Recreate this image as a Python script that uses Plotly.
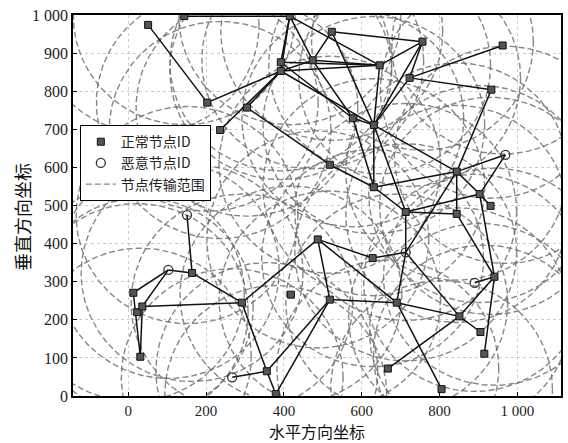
import numpy as np
import plotly.graph_objects as go

# Node coordinates (m) and type: "n" = normal node, "m" = malicious node
node_x = [51, 144, 415, 203, 236, 305, 392, 392, 474, 523,
          646, 756, 962, 933, 723, 577, 631, 518, 631, 969,
          844, 903, 931, 844, 713, 151, 164, 103, 13, 23,
          36, 31, 292, 267, 356, 379, 418, 487, 518, 628,
          713, 690, 667, 805, 851, 890, 941, 905, 915]
node_y = [974, 997, 997, 770, 698, 757, 853, 876, 881, 956,
          868, 930, 920, 804, 835, 729, 711, 607, 548, 633,
          589, 530, 499, 478, 483, 475, 323, 331, 271, 220,
          235, 103, 245, 49, 65, 5, 266, 411, 253, 362,
          377, 245, 72, 18, 209, 297, 313, 168, 111]
node_type = ["n", "n", "n", "n", "n", "n", "n", "n", "n", "n",
             "n", "n", "n", "n", "n", "n", "n", "n", "n", "m",
             "n", "n", "n", "n", "n", "m", "n", "m", "n", "n",
             "n", "n", "n", "m", "n", "n", "n", "n", "n", "n",
             "m", "n", "n", "n", "n", "m", "n", "n", "n"]

# Communication links (1-based node numbers)
links = [(1, 4), (2, 3), (3, 7), (3, 8), (3, 9), (3, 11), (4, 7), (5, 7), (6, 7),
         (6, 18), (7, 9), (7, 11), (8, 11), (9, 11), (7, 17), (8, 16), (9, 10),
         (9, 16), (10, 12), (10, 17), (11, 12), (11, 17), (12, 15), (12, 17),
         (15, 13), (15, 14), (15, 17), (16, 17), (16, 19), (17, 19), (17, 21),
         (17, 25), (18, 19), (19, 21), (19, 25), (14, 21), (21, 20), (21, 22),
         (21, 24), (21, 41), (22, 20), (22, 23), (22, 47), (25, 22), (25, 24),
         (25, 41), (24, 47), (38, 39), (38, 33), (38, 40), (38, 42), (40, 41),
         (41, 42), (39, 42), (39, 35), (39, 36), (42, 45), (42, 44), (43, 45),
         (41, 45), (45, 48), (47, 49), (47, 46), (33, 27), (33, 31), (27, 26),
         (27, 28), (28, 29), (28, 31), (29, 32), (31, 32), (30, 31), (33, 35),
         (34, 35), (35, 36), (45, 47)]

# Transmission radius of every node (m)
radius = 285

x_ticks = [0, 200, 400, 600, 800, 1000]
x_tick_text = ["0", "200", "400", "600", "800", "1 000"]
y_ticks = [0, 100, 200, 300, 400, 500, 600, 700, 800, 900, 1000]
y_tick_text = ["0", "100", "200", "300", "400", "500", "600", "700", "800", "900", "1 000"]

fig = go.Figure()

# Transmission range circles
theta = np.linspace(0, 2 * np.pi, 241)
cx, cy = [], []
for x0, y0 in zip(node_x, node_y):
    cx += list(x0 + radius * np.cos(theta)) + [None]
    cy += list(y0 + radius * np.sin(theta)) + [None]

# Links
lx, ly = [], []
for a, b in links:
    lx += [node_x[a - 1], node_x[b - 1], None]
    ly += [node_y[a - 1], node_y[b - 1], None]

fig.add_trace(go.Scatter(x=cx, y=cy, mode="lines", name="节点传输范围",
                         line=dict(color="rgba(105,105,105,0.8)", width=1.4, dash="6px,3px"),
                         hoverinfo="skip", legendrank=3))
fig.add_trace(go.Scatter(x=lx, y=ly, mode="lines", showlegend=False,
                         line=dict(color="#111111", width=1.5), hoverinfo="skip"))

nx = [x for x, t in zip(node_x, node_type) if t == "n"]
ny = [y for y, t in zip(node_y, node_type) if t == "n"]
mx = [x for x, t in zip(node_x, node_type) if t == "m"]
my = [y for y, t in zip(node_y, node_type) if t == "m"]

fig.add_trace(go.Scatter(x=nx, y=ny, mode="markers", name="正常节点ID",
                         marker=dict(symbol="square", size=7, color="#555555",
                                     line=dict(color="#111111", width=1)),
                         legendrank=1))
fig.add_trace(go.Scatter(x=mx, y=my, mode="markers", name="恶意节点ID",
                         marker=dict(symbol="circle-open", size=9, color="#333333",
                                     line=dict(width=1.3)),
                         legendrank=2))

axis_common = dict(showline=True, mirror=True, linecolor="black", linewidth=1.5,
                   ticks="inside", ticklen=4, tickcolor="black",
                   showgrid=True, gridcolor="rgba(170,170,170,0.6)", griddash="dot",
                   gridwidth=1, zeroline=False)

fig.update_xaxes(range=[-142, 1112], tickvals=x_ticks, ticktext=x_tick_text,
                 tickfont=dict(family="Liberation Serif", size=15, color="#222222"),
                 **axis_common)
fig.update_yaxes(range=[0, 1000], tickvals=y_ticks, ticktext=y_tick_text,
                 tickfont=dict(family="Liberation Serif", size=16, color="#222222"),
                 **axis_common)

fig.update_layout(
    width=568, height=443,
    margin=dict(l=73, r=5, t=15, b=47),
    plot_bgcolor="white", paper_bgcolor="white",
    legend=dict(x=0.014, y=0.711, xanchor="left", yanchor="top",
                bgcolor="white", bordercolor="black", borderwidth=1,
                font=dict(family="Noto Sans CJK SC", size=14, color="#222222"),
                itemwidth=30, tracegroupgap=0),
    annotations=[
        dict(text="水平方向坐标", xref="paper", yref="paper", x=0.5, y=0,
             yshift=-35, xanchor="center", yanchor="middle", showarrow=False,
             font=dict(family="Noto Sans CJK SC", size=16, color="#111111")),
        dict(text="垂直方向坐标", xref="paper", yref="paper", x=0, y=0.47,
             xshift=-51, xanchor="center", yanchor="middle", textangle=-90,
             showarrow=False,
             font=dict(family="Noto Sans CJK SC", size=18, color="#111111")),
    ],
)

fig.write_html("out.html")
